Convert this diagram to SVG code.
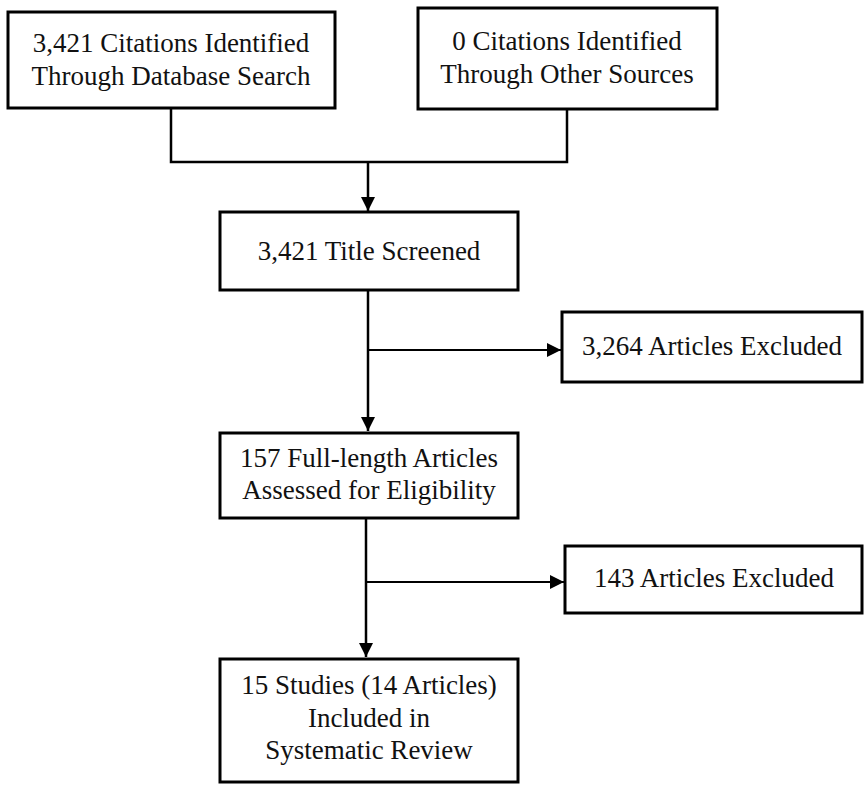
<svg xmlns="http://www.w3.org/2000/svg" width="866" height="788" viewBox="0 0 866 788">
<style>
.box{fill:#fff;stroke:#000;stroke-width:3}
.t{font-family:"Liberation Serif","Times New Roman",serif;font-size:27px;fill:#111;text-anchor:middle}
.c{fill:none;stroke:#000;stroke-width:2.5}
.h{fill:none;stroke:#000;stroke-width:2}
</style>
<defs>
<marker id="ah" viewBox="0 0 10 10" refX="10" refY="5" markerWidth="16" markerHeight="14" markerUnits="userSpaceOnUse" orient="auto">
<path d="M0,0 L10,5 L0,10 Z" fill="#000"/>
</marker>
</defs>
<rect width="866" height="788" fill="#fff"/>
<g id="connectors">
<path class="c" d="M171,108 V162 H567 V109"/>
<path class="c" d="M368,162 V211" marker-end="url(#ah)"/>
<path class="c" d="M368,290 V431" marker-end="url(#ah)"/>
<path class="h" d="M368,350 H561" marker-end="url(#ah)"/>
<path class="c" d="M366,518 V657" marker-end="url(#ah)"/>
<path class="h" d="M366,582 H564" marker-end="url(#ah)"/>
</g>
<g id="db">
<rect class="box" x="8" y="12" width="327" height="96"/>
<text class="t" x="171" y="52">3,421 Citations Identified</text>
<text class="t" x="171" y="85">Through Database Search</text>
</g>
<g id="other">
<rect class="box" x="418" y="8" width="299" height="101"/>
<text class="t" x="567" y="50">0 Citations Identified</text>
<text class="t" x="567" y="83">Through Other Sources</text>
</g>
<g id="title">
<rect class="box" x="220" y="212" width="298" height="78"/>
<text class="t" x="369" y="260">3,421 Title Screened</text>
</g>
<g id="excl1">
<rect class="box" x="562" y="312" width="300" height="70"/>
<text class="t" x="712" y="355">3,264 Articles Excluded</text>
</g>
<g id="full">
<rect class="box" x="220" y="433" width="298" height="85"/>
<text class="t" x="369" y="467">157 Full-length Articles</text>
<text class="t" x="369" y="499">Assessed for Eligibility</text>
</g>
<g id="excl2">
<rect class="box" x="565" y="546" width="297" height="67"/>
<text class="t" x="714" y="587">143 Articles Excluded</text>
</g>
<g id="incl">
<rect class="box" x="220" y="659" width="298" height="123"/>
<text class="t" x="369" y="694">15 Studies (14 Articles)</text>
<text class="t" x="369" y="727">Included in</text>
<text class="t" x="369" y="759">Systematic Review</text>
</g>
</svg>
